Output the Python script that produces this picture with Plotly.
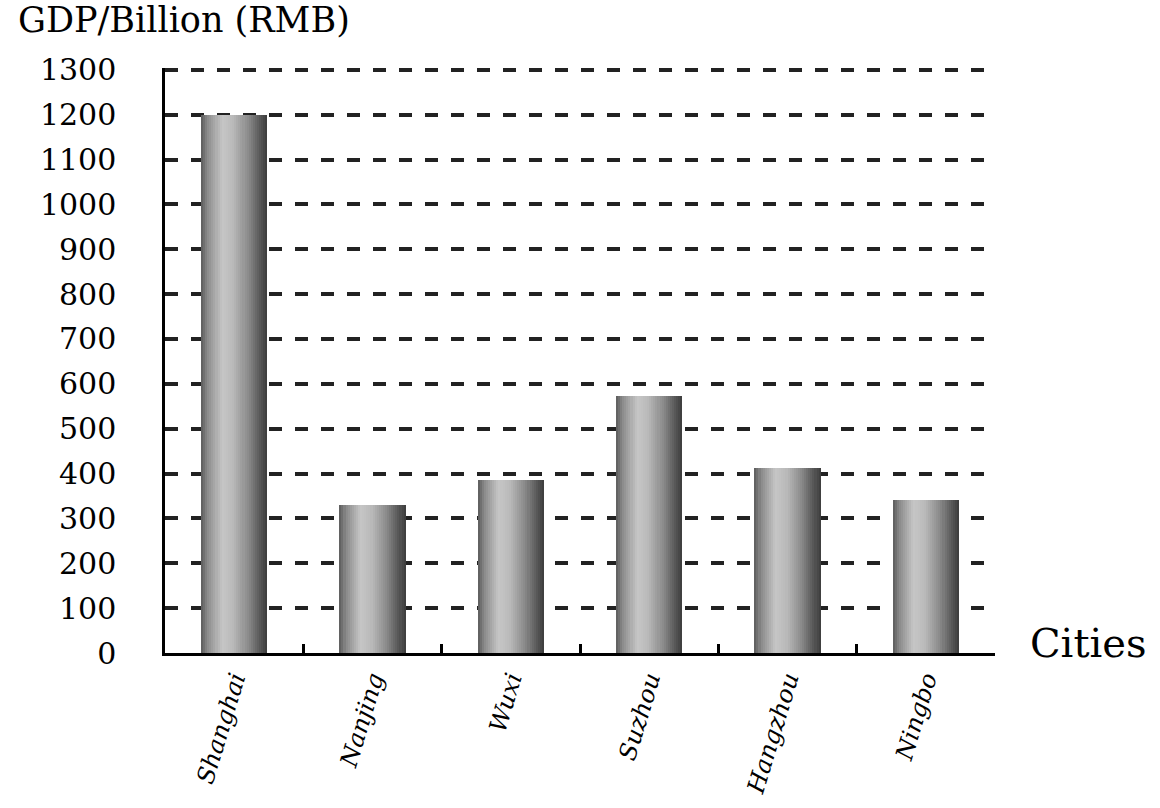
import plotly.graph_objects as go

# GDP of Yangtze River Delta cities, billion RMB
cities = ["Shanghai", "Nanjing", "Wuxi", "Suzhou", "Hangzhou", "Ningbo"]
gdp = [1200, 330, 386, 573, 412, 342]

y_ticks = list(range(0, 1301, 100))

SERIF = "DejaVu Serif"
INK = "#000"

# Cylindrical grey shading across each bar, built from thin overlaid slices
shade_stops = [(0.0, 0x5a), (0.10, 0x8a), (0.32, 0xc6), (0.48, 0xba),
               (0.72, 0x88), (0.90, 0x55), (1.0, 0x3c)]


def shade(t):
    for (t0, v0), (t1, v1) in zip(shade_stops, shade_stops[1:]):
        if t0 <= t <= t1:
            v = v0 + (v1 - v0) * (t - t0) / (t1 - t0)
            g = int(round(v))
            return f"rgb({g},{g},{g})"
    g = shade_stops[-1][1]
    return f"rgb({g},{g},{g})"


BAR_W = 0.48
N_SLICES = 32
slice_w = BAR_W / N_SLICES

fig = go.Figure()
for i in range(N_SLICES):
    t = (i + 0.5) / N_SLICES
    fig.add_trace(go.Bar(
        x=cities,
        y=gdp,
        offset=-BAR_W / 2 + i * slice_w,
        width=slice_w * (1.25 if i < N_SLICES - 1 else 1.0),
        marker=dict(color=shade(t), line=dict(width=0)),
        showlegend=False,
        hoverinfo="skip",
    ))

fig.update_layout(
    width=1160,
    height=808,
    margin=dict(l=165, r=165, t=68, b=155),
    paper_bgcolor="white",
    plot_bgcolor="white",
    barmode="overlay",
    bargap=0,
    font=dict(family=SERIF, color=INK),
    xaxis=dict(
        type="category",
        automargin=False,
        showline=True,
        linecolor=INK,
        linewidth=2.5,
        ticks="inside",
        tickson="boundaries",
        ticklen=9,
        tickwidth=2.5,
        tickcolor=INK,
        tickangle=-73,
        tickfont=dict(family=SERIF, size=24, style="italic", color=INK),
        showgrid=False,
        zeroline=False,
    ),
    yaxis=dict(
        range=[0, 1304],
        automargin=False,
        tickvals=y_ticks,
        ticktext=[str(v) for v in y_ticks],
        showline=True,
        linecolor=INK,
        linewidth=2.5,
        ticks="",
        ticklabelstandoff=40,
        tickfont=dict(family=SERIF, size=30, color=INK),
        showgrid=True,
        gridcolor="#222",
        gridwidth=4,
        griddash="13px,13px",
        zeroline=False,
    ),
    annotations=[
        dict(text="GDP/Billion (RMB)", xref="paper", yref="paper",
             x=-0.180, y=1.082, xanchor="left", yanchor="middle",
             showarrow=False, font=dict(family=SERIF, size=35, color=INK)),
        dict(text="Cities", xref="paper", yref="paper",
             x=1.040, y=0.017, xanchor="left", yanchor="middle",
             showarrow=False, font=dict(family=SERIF, size=40, color=INK)),
    ],
)

fig.write_html("out.html")
